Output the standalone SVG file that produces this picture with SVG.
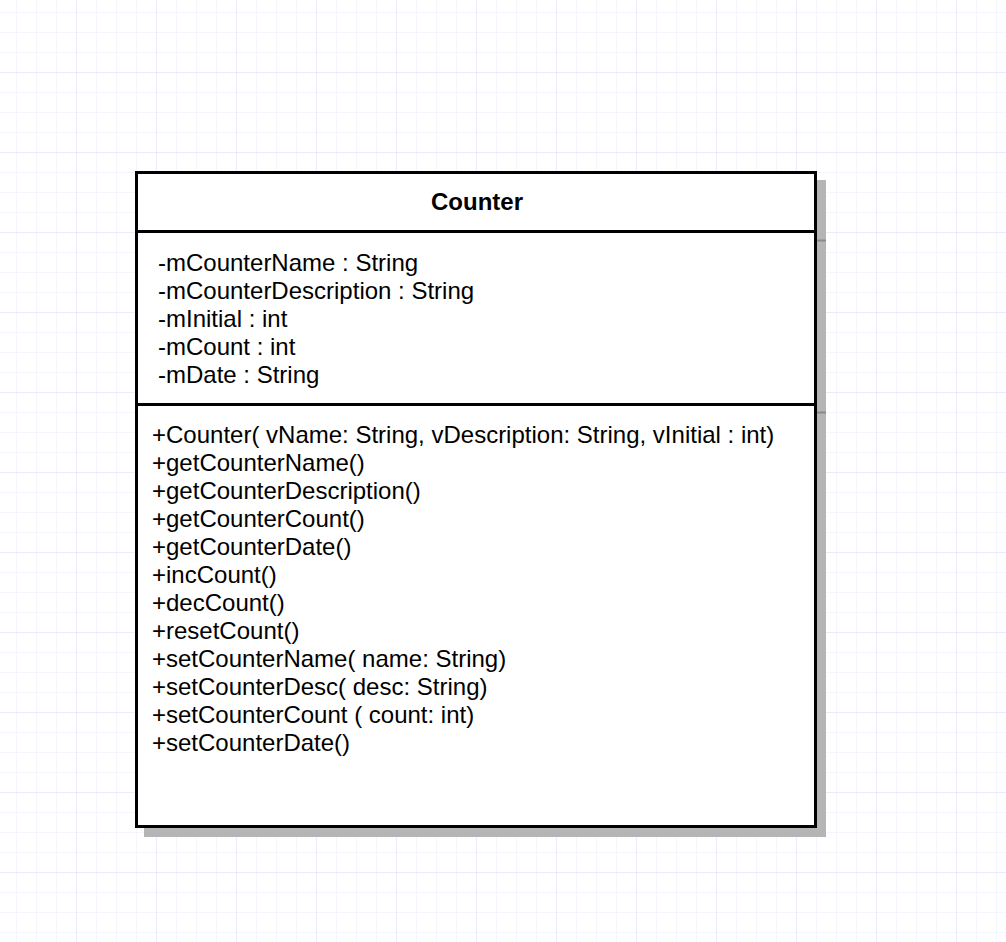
<svg xmlns="http://www.w3.org/2000/svg" width="1006" height="942" viewBox="0 0 1006 942">
<defs>
<pattern id="minor" width="20" height="20" patternUnits="userSpaceOnUse" x="-3" y="-7">
<path d="M20 0 V20 M0 20 H20" fill="none" stroke="#eaeafd" stroke-width="1"/>
</pattern>
<pattern id="major" width="80" height="80" patternUnits="userSpaceOnUse" x="-3" y="-7">
<path d="M80 0 V80 M0 80 H80" fill="none" stroke="#e0e0fa" stroke-width="1"/>
</pattern>
</defs>
<style>
.t{font-family:"Liberation Sans",Arial,sans-serif;font-size:24px;fill:#000}
.b{font-weight:bold;text-anchor:middle}
.ln{stroke:#000;stroke-width:3}
.sh{stroke:#8a8a8a;stroke-width:2}
</style>
<rect width="1006" height="942" fill="#fff"/>
<rect width="1006" height="942" fill="url(#minor)"/>
<rect width="1006" height="942" fill="url(#major)"/>
<g id="counter">
<rect x="144" y="180" width="682" height="657" fill="#b5b5b5"/>
<line x1="817" y1="240.5" x2="826" y2="240.5" class="sh"/>
<line x1="817" y1="412.5" x2="826" y2="412.5" class="sh"/>
<rect x="136.5" y="172.5" width="679" height="654" fill="#fff" class="ln"/>
<line x1="136.5" y1="231.5" x2="815.5" y2="231.5" class="ln"/>
<line x1="136.5" y1="404.5" x2="815.5" y2="404.5" class="ln"/>
<text class="t b" x="477" y="210">Counter</text>
<text class="t" x="158" y="271">-mCounterName : String</text>
<text class="t" x="158" y="299">-mCounterDescription : String</text>
<text class="t" x="158" y="327">-mInitial : int</text>
<text class="t" x="158" y="355">-mCount : int</text>
<text class="t" x="158" y="383">-mDate : String</text>
<text class="t" x="152" y="443">+Counter( vName: String, vDescription: String, vInitial : int)</text>
<text class="t" x="152" y="471">+getCounterName()</text>
<text class="t" x="152" y="499">+getCounterDescription()</text>
<text class="t" x="152" y="527">+getCounterCount()</text>
<text class="t" x="152" y="555">+getCounterDate()</text>
<text class="t" x="152" y="583">+incCount()</text>
<text class="t" x="152" y="611">+decCount()</text>
<text class="t" x="152" y="639">+resetCount()</text>
<text class="t" x="152" y="667">+setCounterName( name: String)</text>
<text class="t" x="152" y="695">+setCounterDesc( desc: String)</text>
<text class="t" x="152" y="723">+setCounterCount ( count: int)</text>
<text class="t" x="152" y="751">+setCounterDate()</text>
</g>
</svg>
